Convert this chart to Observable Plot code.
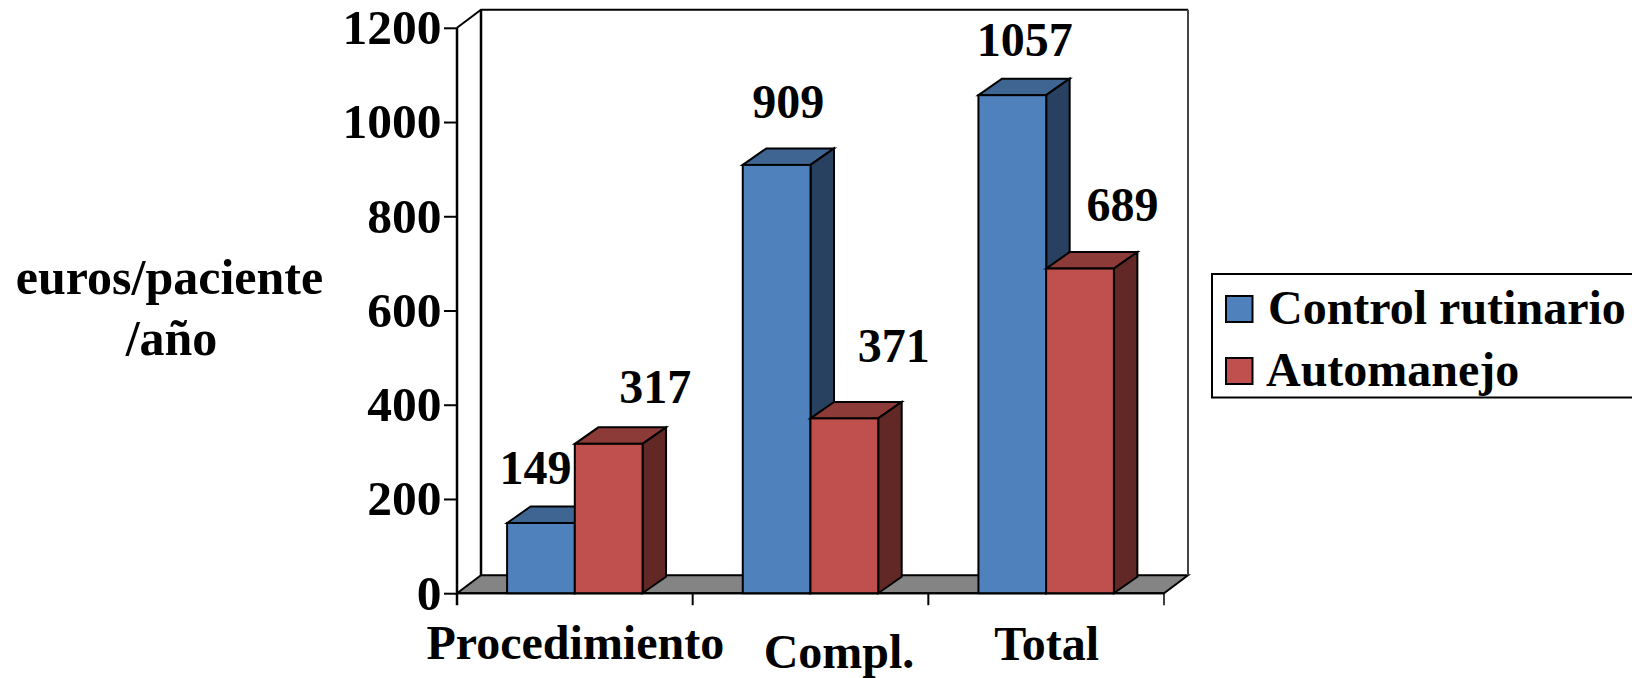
<!DOCTYPE html>
<html lang="es">
<head>
<meta charset="utf-8">
<title>Coste por paciente y año</title>
<script src="https://cdn.jsdelivr.net/npm/d3@7"></script>
<script src="https://cdn.jsdelivr.net/npm/@observablehq/plot@0.6"></script>
<style>
  html, body { margin: 0; padding: 0; background: #fff; overflow: hidden; }
  svg { display: block; }
</style>
</head>
<body>
<div id="chart"></div>
<script>
// Annual cost per patient, by cost category and management strategy.
const categories = ["Procedimiento", "Compl.", "Total"];
const seriesNames = ["Control rutinario", "Automanejo"];
const controlValues = [149, 909, 1057];
const automanejoValues = [317, 371, 689];
const yTicks = [0, 200, 400, 600, 800, 1000, 1200];
const yTitleLines = ["euros/paciente", "/año"];

// Colours for the front, top and side faces of each series.
const faces = [
  {front: "#4F81BD", top: "#3F6592", side: "#284160"},
  {front: "#C0504D", top: "#8C3B39", side: "#612826"}
];

const serif = "'Liberation Serif', 'Times New Roman', serif";
const fontSize = 48;
const barWidth = 67.7;
const depthX = 23.5;
const depthY = 16.5;
const wallX = 24;
const wallY = 18;

const SVG_NS = "http://www.w3.org/2000/svg";
const el = (name, attrs = {}, text) => {
  const node = document.createElementNS(SVG_NS, name);
  for (const [k, v] of Object.entries(attrs)) node.setAttribute(k, v);
  if (text != null) node.textContent = text;
  return node;
};
const pts = (...p) => p.map((q) => q.join(",")).join(" ");
const bandOf = (x) => (typeof x.bandwidth === "function" ? x.bandwidth() : x.bandwidth);

const rowsFor = (values) => categories.map((category, i) => ({category, value: values[i]}));

// Back wall, side wall, grey floor and the hand-placed axis rules.
function walls(index, {x, y}) {
  const g = el("g", {stroke: "#000", "stroke-width": 2, fill: "none"});
  const band = bandOf(x);
  const left = x(categories[0]);
  const right = x(categories[categories.length - 1]) + band;
  const y0 = y(0);
  const yTop = y(1200);
  g.append(
    el("polygon", {points: pts([left, y0], [left + wallX, y0 - wallY], [right + wallX, y0 - wallY], [right, y0]), fill: "#848484"}),
    el("path", {d: `M${left},${yTop}L${left + wallX},${yTop - wallY}H${right + wallX}`}),
    el("path", {d: `M${left + wallX},${yTop - wallY}V${y0 - wallY}`, "stroke-width": 2.5}),
    el("path", {d: `M${right + wallX},${yTop - wallY}V${y0 - wallY}`, stroke: "#444"}),
    el("path", {d: `M${left},${yTop}V${y0 + 12}`, "stroke-width": 2.5}),
    el("path", {d: `M${left},${y0}H${right}`})
  );
  // Ticks sit on the band boundaries of the category scale.
  for (const c of categories) {
    const tx = x(c) + band;
    g.append(el("path", {d: `M${tx},${y0}V${y0 + 12}`, "stroke-width": c === "Total" ? 1.5 : 2}));
  }
  return g;
}

// One series of extruded bars: the bar mark draws the front face, the
// top and side faces are added behind it from the same scaled values.
function bars3d(values, face, shift) {
  return Plot.barY(rowsFor(values), {
    x: "category",
    y: "value",
    fill: face.front,
    stroke: "#000",
    strokeWidth: 2,
    dx: shift,
    insetLeft: 83.95,
    insetRight: 83.95,
    render(index, scales, vals, dims, ctx, next) {
      const g = next(index, scales, vals, dims, ctx);
      const front = [...g.childNodes];
      const band = bandOf(scales.x);
      for (const i of index) {
        const x0 = vals.x[i] + (band - barWidth) / 2;
        const x1 = x0 + barWidth;
        const yT = Math.min(vals.y1[i], vals.y2[i]);
        const yB = Math.max(vals.y1[i], vals.y2[i]);
        g.insertBefore(el("polygon", {
          points: pts([x0, yT], [x0 + depthX, yT - depthY], [x1 + depthX, yT - depthY], [x1, yT]),
          fill: face.top
        }), front[0]);
        g.insertBefore(el("polygon", {
          points: pts([x1, yT], [x1 + depthX, yT - depthY], [x1 + depthX, yB - depthY], [x1, yB]),
          fill: face.side
        }), front[0]);
      }
      return g;
    }
  });
}

// Value labels float above the bars, each with its own offset.
const valueOffsets = [
  [[-6, -39], [11, -47], [12, -40]],
  [[46, -41], [49, -57], [42, -48]]
];
function valueLabels(values, s, shift) {
  return values.map((v, i) => Plot.text([{category: categories[i], value: v}], {
    x: "category",
    y: "value",
    text: (d) => String(d.value),
    fontSize,
    fontWeight: "bold",
    fill: "#000",
    textAnchor: "middle",
    lineAnchor: "bottom",
    dx: shift + valueOffsets[s][i][0],
    dy: valueOffsets[s][i][1]
  }));
}

// Category labels below the axis; their vertical and horizontal nudges differ.
const categoryNudges = {"Procedimiento": [0, 65], "Compl.": [28, 74], "Total": [0, 66]};
const categoryLabels = categories.map((c) => Plot.text([c], {
  x: (d) => d,
  frameAnchor: "bottom",
  text: (d) => d,
  fontSize,
  fontWeight: "bold",
  fill: "#000",
  lineAnchor: "bottom",
  dx: categoryNudges[c][0],
  dy: categoryNudges[c][1]
}));

// Boxed legend that runs off the right edge, plus the two-line y title.
function legendAndTitle() {
  const g = el("g", {"font-family": serif, "font-size": fontSize, "font-weight": "bold", fill: "#000", "text-anchor": "start"});
  g.append(el("rect", {x: 1212, y: 274, width: 440, height: 123.5, fill: "#fff", stroke: "#000", "stroke-width": 2}));
  const rowY = [296, 358];
  const baseY = [324, 386];
  const textX = [1268, 1266];
  seriesNames.forEach((name, i) => {
    g.append(
      el("rect", {x: 1226, y: rowY[i], width: 26.5, height: 26, fill: faces[i].front, stroke: "#000", "stroke-width": 2}),
      el("text", {x: textX[i], y: baseY[i]}, name)
    );
  });
  const titleX = [169.5, 171.5];
  const titleY = [294, 355];
  yTitleLines.forEach((line, i) => {
    g.append(el("text", {x: titleX[i], y: titleY[i], "text-anchor": "middle", "font-size": 50}, line));
  });
  return g;
}

const chart = Plot.plot({
  width: 1632,
  height: 678,
  marginLeft: 457,
  marginRight: 468,
  marginTop: 27.8,
  marginBottom: 84.8,
  style: {fontFamily: serif, background: "#fff", color: "#000", overflow: "visible"},
  x: {domain: categories, padding: 0, round: false, axis: null},
  y: {domain: [0, 1200], axis: null},
  marks: [
    walls,
    Plot.axisY({
      ticks: yTicks,
      tickFormat: (d) => String(d),
      tickSize: 13,
      tickPadding: 3,
      fontSize: 49.5,
      fontWeight: "bold",
      stroke: "#000",
      strokeWidth: 2,
      strokeOpacity: 1,
      fill: "#000",
      label: null
    }),
    bars3d(controlValues, faces[0], -barWidth / 2),
    bars3d(automanejoValues, faces[1], barWidth / 2),
    ...valueLabels(controlValues, 0, -barWidth / 2),
    ...valueLabels(automanejoValues, 1, barWidth / 2),
    ...categoryLabels,
    legendAndTitle
  ]
});
document.getElementById("chart").append(chart);
</script>
</body>
</html>
